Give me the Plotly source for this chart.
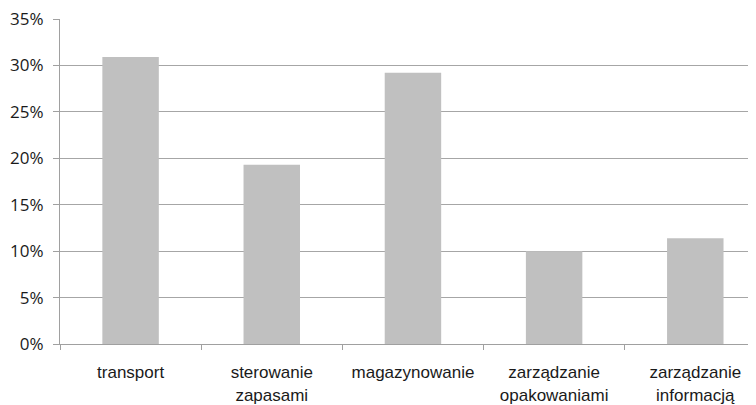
import plotly.graph_objects as go

categories = ["transport", "sterowanie<br>zapasami", "magazynowanie",
              "zarządzanie<br>opakowaniami", "zarządzanie<br>informacją"]
values = [30.9, 19.3, 29.2, 10.0, 11.4]
y_ticks = [0, 5, 10, 15, 20, 25, 30, 35]
y_tick_labels = ["0%", "5%", "10%", "15%", "20%", "25%", "30%", "35%"]

fig = go.Figure(go.Bar(
    x=categories, y=values,
    marker=dict(color="#C0C0C0", line=dict(width=0)),
    width=0.4,
))

# page body has an 8px default margin; figure sized to fill the rest of the window
fig.update_layout(
    width=748, height=397,
    margin=dict(l=52, r=0, t=11, b=61),
    paper_bgcolor="white", plot_bgcolor="white",
    showlegend=False,
    font=dict(family="Liberation Sans, Arial, sans-serif", size=16, color="#1a1a1a"),
)
fig.update_xaxes(
    type="category",
    range=[-0.5, 4.43],
    showline=True, linecolor="#A0A0A0", linewidth=1,
    ticks="outside", ticklen=5, tickcolor="#A0A0A0",
    tickson="boundaries",
    showgrid=False,
    ticklabelstandoff=13,
    ticklabeloverflow="allow",
    tickfont=dict(family="Liberation Sans, Arial, sans-serif", size=17),
)
fig.update_yaxes(
    range=[0, 35], tickmode="array", tickvals=y_ticks, ticktext=y_tick_labels,
    showline=True, linecolor="#A0A0A0", linewidth=1,
    ticks="outside", ticklen=6, tickcolor="#A0A0A0",
    showgrid=True, gridcolor="#A6A6A6", gridwidth=1,
    zeroline=False,
    ticklabelstandoff=6,
    ticklabeloverflow="allow",
    tickfont=dict(family="Open Sans, sans-serif", size=17),
)

fig.write_html("out.html")
